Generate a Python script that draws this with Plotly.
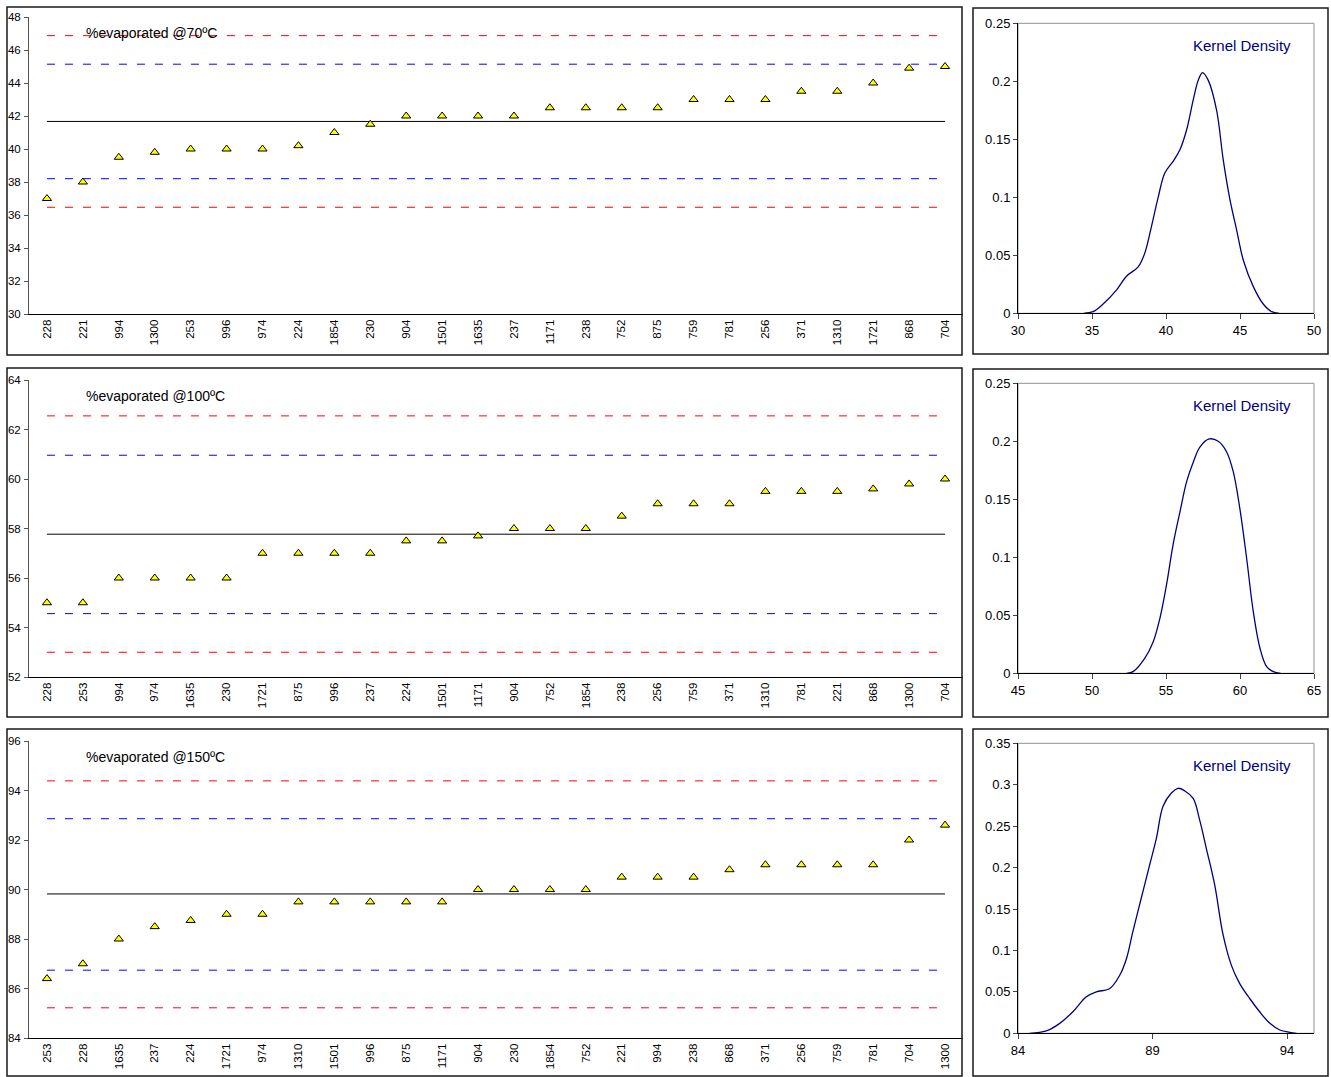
import plotly.graph_objects as go

W, H = 1331, 1077

# ---------------- data ----------------
cats_70 = ["228", "221", "994", "1300", "253", "996", "974", "224", "1854", "230", "904", "1501", "1635",
           "237", "1171", "238", "752", "875", "759", "781", "256", "371", "1310", "1721", "868", "704"]
vals_70 = [37, 38, 39.5, 39.8, 40, 40, 40, 40.2, 41, 41.5, 42, 42, 42,
           42, 42.5, 42.5, 42.5, 42.5, 43, 43, 43, 43.5, 43.5, 44, 44.9, 45]
lines_70 = {"mean": 41.67, "blue_hi": 45.14, "blue_lo": 38.2, "red_hi": 46.87, "red_lo": 36.47}

cats_100 = ["228", "253", "994", "974", "1635", "230", "1721", "875", "996", "237", "224", "1501", "1171",
            "904", "752", "1854", "238", "256", "759", "371", "1310", "781", "221", "868", "1300", "704"]
vals_100 = [55, 55, 56, 56, 56, 56, 57, 57, 57, 57, 57.5, 57.5, 57.7,
            58, 58, 58, 58.5, 59, 59, 59, 59.5, 59.5, 59.5, 59.6, 59.8, 60]
lines_100 = {"mean": 57.77, "blue_hi": 60.96, "blue_lo": 54.56, "red_hi": 62.55, "red_lo": 53.0}

cats_150 = ["253", "228", "1635", "237", "224", "1721", "974", "1310", "1501", "996", "875", "1171", "904",
            "230", "1854", "752", "221", "994", "238", "868", "371", "256", "759", "781", "704", "1300"]
vals_150 = [86.4, 87, 88, 88.5, 88.75, 89, 89, 89.5, 89.5, 89.5, 89.5, 89.5, 90,
            90, 90, 90, 90.5, 90.5, 90.5, 90.8, 91, 91, 91, 91, 92, 92.6]
lines_150 = {"mean": 89.82, "blue_hi": 92.86, "blue_lo": 86.74, "red_hi": 94.39, "red_lo": 85.22}

kd70_x = [34.44, 35.07, 35.75, 36.65, 37.33, 38.12, 38.57, 39.02, 39.47, 39.92, 40.48, 40.94, 41.39,
          41.84, 42.18, 42.47, 42.85, 43.42, 43.87, 44.32, 44.77, 45.22, 45.9, 46.57, 47.14, 47.65]
kd70_y = [0.0, 0.0014, 0.008, 0.020, 0.032, 0.040, 0.052, 0.075, 0.100, 0.121, 0.131, 0.141, 0.158,
          0.184, 0.201, 0.2075, 0.201, 0.175, 0.132, 0.098, 0.072, 0.046, 0.023, 0.008, 0.0014, 0.0]

kd100_x = [52.33, 52.78, 53.57, 54.13, 54.58, 55.03, 55.48, 55.94, 56.39, 56.84, 57.29, 57.92, 58.53,
           59.09, 59.54, 59.99, 60.45, 60.9, 61.35, 61.8, 62.25, 62.75]
kd100_y = [0.0, 0.0014, 0.013, 0.027, 0.047, 0.076, 0.111, 0.139, 0.165, 0.182, 0.195, 0.202, 0.200,
           0.191, 0.174, 0.142, 0.099, 0.053, 0.0216, 0.0057, 0.0014, 0.0]

kd150_x = [84.43, 85.05, 85.55, 86.04, 86.54, 86.91, 87.41, 87.78, 88.03, 88.27, 88.58, 88.89, 89.14,
           89.39, 89.7, 89.95, 90.2, 90.51, 90.75, 91.0, 91.31, 91.62, 91.93, 92.24, 92.61, 92.98,
           93.36, 93.73, 94.1, 94.35]
kd150_y = [0.0, 0.0028, 0.012, 0.026, 0.044, 0.050, 0.054, 0.070, 0.090, 0.123, 0.163, 0.203, 0.235,
           0.274, 0.290, 0.2957, 0.2925, 0.2836, 0.2575, 0.223, 0.179, 0.119, 0.082, 0.060, 0.042, 0.026,
           0.012, 0.004, 0.0012, 0.0]

titles = ["%evaporated @70ºC", "%evaporated @100ºC", "%evaporated @150ºC"]
yranges = [(30, 48), (52, 64), (84, 96)]
kd_xranges = [(30, 50), (45, 65), (84, 95)]
kd_yranges = [(0, 0.25), (0, 0.25), (0, 0.35)]
kd_ydticks = [0.05, 0.05, 0.05]
kd_xtickvals = [[30, 35, 40, 45, 50], [45, 50, 55, 60, 65], [84, 89, 94]]

# ---------------- layout geometry (pixels) ----------------
left_px = (29, 963)
left_rows = [(17, 314), (380, 677), (741, 1038)]
right_px = (1018, 1314)
right_rows = [(23.3, 313.3), (383.3, 673.3), (743.3, 1033.3)]
frames_left = [(7, 7, 962, 355), (7, 368, 962, 717), (7, 729, 962, 1076)]
frames_right = [(973, 8, 1328, 354), (973, 369, 1328, 717), (973, 729, 1328, 1076)]


def px(x):
    return x / W


def py(y):
    return 1 - y / H


FONT = "Liberation Sans, Arial, sans-serif"

fig = go.Figure()
layout = dict(
    width=W, height=H, margin=dict(l=0, r=0, t=0, b=0, autoexpand=False),
    paper_bgcolor="white", plot_bgcolor="white", showlegend=False,
    font=dict(family=FONT, color="black"),
    shapes=[], annotations=[],
)

panels = [
    (cats_70, vals_70, lines_70),
    (cats_100, vals_100, lines_100),
    (cats_150, vals_150, lines_150),
]
kds = [(kd70_x, kd70_y), (kd100_x, kd100_y), (kd150_x, kd150_y)]

for i in range(3):
    cats, vals, lines = panels[i]
    li = 2 * i + 1
    ri = 2 * i + 2
    xa_l = "x" if li == 1 else f"x{li}"
    ya_l = "y" if li == 1 else f"y{li}"
    xa_r = f"x{ri}"
    ya_r = f"y{ri}"

    for key, color, dash in [("red_hi", "#FF0000", "8px,10px"), ("blue_hi", "#0000FF", "8px,10px"),
                             ("mean", "#000000", None), ("blue_lo", "#0000FF", "8px,10px"),
                             ("red_lo", "#FF0000", "8px,10px")]:
        ln = dict(color=color, width=1)
        if dash:
            ln["dash"] = dash
        fig.add_trace(go.Scatter(
            x=[cats[0], cats[-1]], y=[lines[key], lines[key]], mode="lines",
            line=ln, xaxis=xa_l, yaxis=ya_l, hoverinfo="skip"))
    fig.add_trace(go.Scatter(
        x=cats, y=vals, mode="markers",
        marker=dict(symbol="triangle-up", size=8, color="#FFFF00", line=dict(color="black", width=1)),
        xaxis=xa_l, yaxis=ya_l))

    kx, ky = kds[i]
    fig.add_trace(go.Scatter(x=kx, y=ky, mode="lines", line=dict(color="#000080", width=1.3, shape="spline"),
                             xaxis=xa_r, yaxis=ya_r))

    t, b = left_rows[i]
    kl = "xaxis" if li == 1 else f"xaxis{li}"
    yl = "yaxis" if li == 1 else f"yaxis{li}"
    layout[kl] = dict(
        domain=[px(left_px[0]), px(left_px[1])], anchor=ya_l, type="category",
        categoryorder="array", categoryarray=cats, range=[-0.5, len(cats) - 0.5],
        tickangle=-90, tickfont=dict(size=11.5, family=FONT), showgrid=False, zeroline=False,
        showline=True, linecolor="black", linewidth=1, ticks="", automargin=False)
    layout[yl] = dict(
        domain=[py(b), py(t)], anchor=xa_l, range=list(yranges[i]), dtick=2,
        tickfont=dict(size=11.5, family=FONT), showgrid=False, zeroline=False, automargin=False,
        showline=True, linecolor="#555555", linewidth=1, ticks="outside", ticklen=4, tickcolor="#555555",
        ticklabelstandoff=1)

    t2, b2 = right_rows[i]
    layout[f"xaxis{ri}"] = dict(
        domain=[px(right_px[0]), px(right_px[1])], anchor=ya_r, range=list(kd_xranges[i]),
        tickvals=kd_xtickvals[i], tickfont=dict(size=13, family=FONT), showgrid=False, zeroline=False,
        showline=True, linecolor="black", linewidth=1, ticks="outside", ticklen=5, automargin=False)
    layout[f"yaxis{ri}"] = dict(
        domain=[py(b2), py(t2)], anchor=xa_r, range=list(kd_yranges[i]), dtick=kd_ydticks[i],
        tickfont=dict(size=13, family=FONT), showgrid=False, zeroline=False, automargin=False,
        showline=True, linecolor="black", linewidth=1, ticks="outside", ticklen=4)

    layout["shapes"].append(dict(type="rect", xref="paper", yref="paper",
                                 x0=px(right_px[0]), x1=px(right_px[1]), y0=py(b2), y1=py(t2),
                                 line=dict(color="#909090", width=1), layer="below"))

    for (x0, y0, x1, y1) in (frames_left[i], frames_right[i]):
        layout["shapes"].append(dict(type="rect", xref="paper", yref="paper",
                                     x0=px(x0), x1=px(x1), y0=py(y1), y1=py(y0),
                                     line=dict(color="#1a1a1a", width=1.5)))

    layout["annotations"].append(dict(
        text=titles[i], xref="paper", yref="paper", x=px(84), y=py(t + 16),
        xanchor="left", yanchor="middle", showarrow=False,
        font=dict(size=14, family=FONT, color="black")))
    layout["annotations"].append(dict(
        text="Kernel Density", xref="paper", yref="paper", x=px(1293), y=py(t2 + 22.5),
        xanchor="right", yanchor="middle", showarrow=False,
        font=dict(size=15, family=FONT, color="#000080")))

fig.update_layout(**layout)
fig.write_html("out.html", config={"displayModeBar": False},
               post_script="document.body.style.margin='0px';document.body.style.overflow='hidden';")
